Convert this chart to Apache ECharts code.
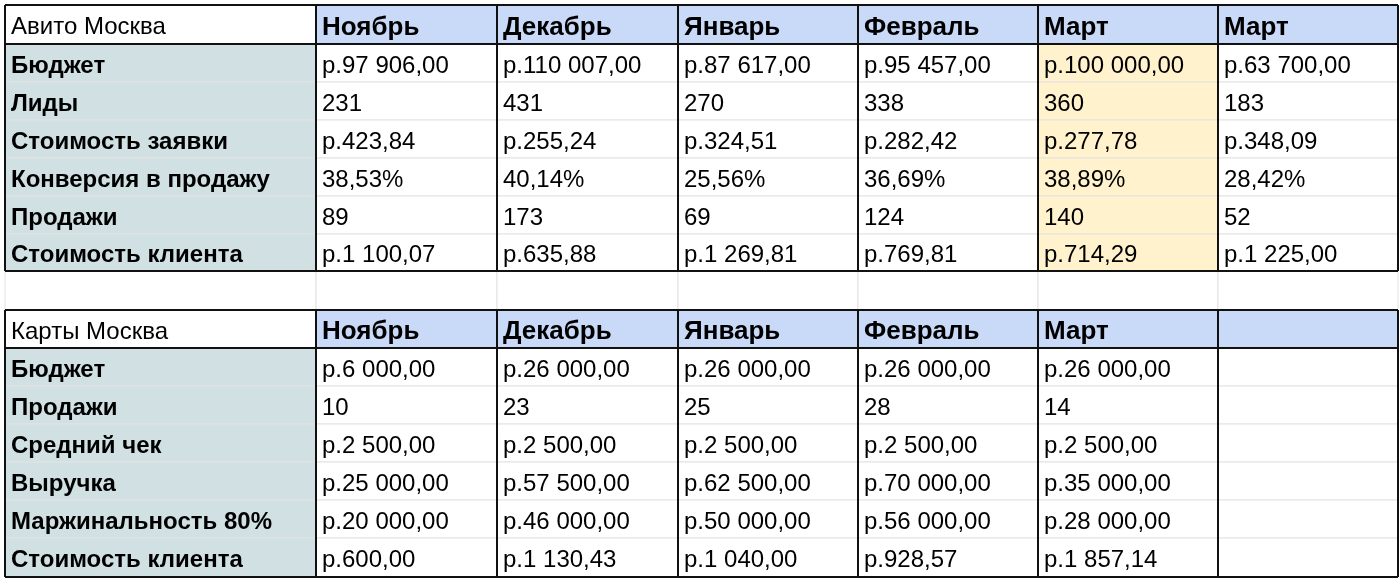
<!DOCTYPE html>
<html><head><meta charset="utf-8">
<script src="https://cdn.jsdelivr.net/npm/echarts@6/dist/echarts.min.js"></script>
<style>html,body{margin:0;padding:0;background:#fff}#c{width:1400px;height:585px}</style>
</head><body><div id="c"></div>
<script>
// таблица 1 — Авито
var avitoTitle = 'Авито Москва';
var avitoMonths = ['Ноябрь', 'Декабрь', 'Январь', 'Февраль', 'Март', 'Март'];
var avitoRows = ['Бюджет', 'Лиды', 'Стоимость заявки', 'Конверсия в продажу', 'Продажи', 'Стоимость клиента'];
var avitoValues = [
    ['р.97 906,00', 'р.110 007,00', 'р.87 617,00', 'р.95 457,00', 'р.100 000,00', 'р.63 700,00'],
    ['231', '431', '270', '338', '360', '183'],
    ['р.423,84', 'р.255,24', 'р.324,51', 'р.282,42', 'р.277,78', 'р.348,09'],
    ['38,53%', '40,14%', '25,56%', '36,69%', '38,89%', '28,42%'],
    ['89', '173', '69', '124', '140', '52'],
    ['р.1 100,07', 'р.635,88', 'р.1 269,81', 'р.769,81', 'р.714,29', 'р.1 225,00']
];
// таблица 2 — Карты
var kartyTitle = 'Карты Москва';
var kartyMonths = ['Ноябрь', 'Декабрь', 'Январь', 'Февраль', 'Март', ''];
var kartyRows = ['Бюджет', 'Продажи', 'Средний чек', 'Выручка', 'Маржинальность 80%', 'Стоимость клиента'];
var kartyValues = [
    ['р.6 000,00', 'р.26 000,00', 'р.26 000,00', 'р.26 000,00', 'р.26 000,00', ''],
    ['10', '23', '25', '28', '14', ''],
    ['р.2 500,00', 'р.2 500,00', 'р.2 500,00', 'р.2 500,00', 'р.2 500,00', ''],
    ['р.25 000,00', 'р.57 500,00', 'р.62 500,00', 'р.70 000,00', 'р.35 000,00', ''],
    ['р.20 000,00', 'р.46 000,00', 'р.50 000,00', 'р.56 000,00', 'р.28 000,00', ''],
    ['р.600,00', 'р.1 130,43', 'р.1 040,00', 'р.928,57', 'р.1 857,14', '']
];

var colX = [5, 316, 497, 678, 858, 1038, 1218, 1398];
var rowY1 = [5, 44, 82, 120, 158, 196, 234, 271];
var rowY2 = [310, 348, 386, 424, 462, 500, 538, 577];
var BLUE = '#c9daf8', TEAL = '#d0e0e3', YELLOW = '#fff2cc';

// [x0, y0, x1, y1, текст, заливка, стиль: 0 обычный, 1 жирный, 2 заголовок]
var cells = [];
function addTable(title, months, rows, values, ys, hiCol) {
    cells.push([colX[0], ys[0], colX[1], ys[1], title, '#fff', 0]);
    months.forEach(function (m, j) {
        cells.push([colX[j + 1], ys[0], colX[j + 2], ys[1], m, BLUE, 2]);
    });
    rows.forEach(function (r, i) {
        cells.push([colX[0], ys[i + 1], colX[1], ys[i + 2], r, TEAL, 1]);
        values[i].forEach(function (v, j) {
            cells.push([colX[j + 1], ys[i + 1], colX[j + 2], ys[i + 2], v, j === hiCol ? YELLOW : '#fff', 0]);
        });
    });
}
addTable(avitoTitle, avitoMonths, avitoRows, avitoValues, rowY1, 4);
addTable(kartyTitle, kartyMonths, kartyRows, kartyValues, rowY2, -1);
// пустая строка между таблицами
for (var j = 0; j < 7; j++) cells.push([colX[j], 271, colX[j + 1], 310, '', '#fff', 0]);

// тёмные линии
var lines = [];
[rowY1, rowY2].forEach(function (ys) {
    colX.forEach(function (x) { lines.push([x, ys[0], x, ys[7]]); });
    [ys[0], ys[1], ys[7]].forEach(function (y) { lines.push([colX[0], y, colX[7], y]); });
});

var fonts = ['24px "Liberation Sans", Arial', 'bold 24px "Liberation Sans", Arial', 'bold 26px "Liberation Sans", Arial'];

var myChart = echarts.init(document.getElementById('c'));
var option = {
    animation: false,
    grid: {left: 0, right: 0, top: 0, bottom: 0},
    xAxis: {type: 'value', min: 0, max: 1400, show: false},
    yAxis: {type: 'value', min: 0, max: 585, inverse: true, show: false},
    series: [
        {
            type: 'custom',
            data: cells,
            renderItem: function (params, api) {
                var p0 = api.coord([api.value(0), api.value(1)]);
                var p1 = api.coord([api.value(2), api.value(3)]);
                var d = cells[params.dataIndex];
                return {
                    type: 'group',
                    children: [
                        {type: 'rect', shape: {x: p0[0], y: p0[1], width: p1[0] - p0[0], height: p1[1] - p0[1]},
                         style: {fill: d[5], stroke: '#e2e2e2', lineWidth: 1}},
                        {type: 'text', x: p0[0] + 6, y: (p0[1] + p1[1]) / 2 + 3,
                         style: {text: d[4], fill: '#000', font: fonts[d[6]],
                                 verticalAlign: 'middle', align: 'left'}}
                    ]
                };
            }
        },
        {
            type: 'custom',
            data: lines,
            z: 5,
            renderItem: function (params, api) {
                var a = api.coord([api.value(0), api.value(1)]);
                var b = api.coord([api.value(2), api.value(3)]);
                return {type: 'line', shape: {x1: a[0], y1: a[1], x2: b[0], y2: b[1]},
                        style: {stroke: '#111', lineWidth: 2}};
            }
        }
    ]
};
myChart.setOption(option);
</script></body></html>
